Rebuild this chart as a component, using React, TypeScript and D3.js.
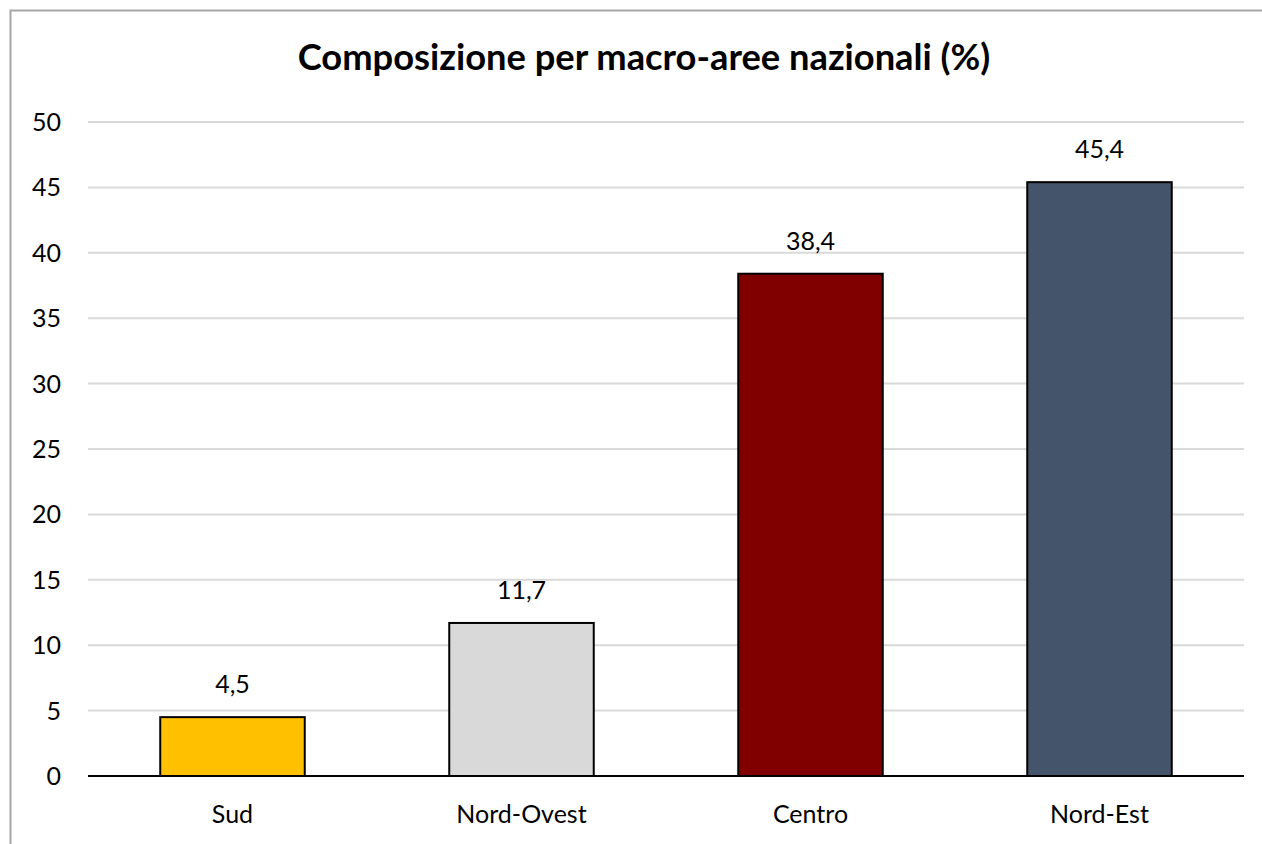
import * as d3 from "d3";
import { useEffect, useRef } from "react";

const categories = ["Sud", "Nord-Ovest", "Centro", "Nord-Est"];
const values = [4.5, 11.7, 38.4, 45.4];
const colors = ["#FFC000", "#D9D9D9", "#800000", "#44546A"];
const yTicks = [0, 5, 10, 15, 20, 25, 30, 35, 40, 45, 50];
const title = "Composizione per macro-aree nazionali (%)";

const W = 1262;
const H = 844;
const FONT = "Lato, 'Open Sans', sans-serif";

const App = () => {
  const svgRef = useRef<SVGSVGElement>(null);

  useEffect(() => {
    const svg = d3.select(svgRef.current);
    svg.selectAll("*").remove();

    // plot area bounds
    const margin = { top: 122, right: 18, bottom: 68, left: 88 };
    const x0 = margin.left;
    const x1 = W - margin.right;
    const y0 = H - margin.bottom;
    const yTop = margin.top;

    svg.append("rect").attr("width", W).attr("height", H).attr("fill", "white");

    // chart frame (only left and top edges are visible)
    svg
      .append("path")
      .attr("d", `M10.5,${H + 5} V10.5 H${W + 5}`)
      .attr("fill", "none")
      .attr("stroke", "#A6A6A6")
      .attr("stroke-width", 2);

    const x = d3.scaleBand().domain(categories).range([x0, x1]).paddingInner(0.5).paddingOuter(0.25);
    const y = d3.scaleLinear().domain([0, 50]).range([y0, yTop]);

    // gridlines
    svg
      .append("g")
      .selectAll("line")
      .data(yTicks.filter((t) => t > 0))
      .enter()
      .append("line")
      .attr("x1", x0)
      .attr("x2", x1)
      .attr("y1", (d) => y(d))
      .attr("y2", (d) => y(d))
      .attr("stroke", "#D9D9D9")
      .attr("stroke-width", 2);

    // y tick labels
    svg
      .append("g")
      .selectAll("text")
      .data(yTicks)
      .enter()
      .append("text")
      .attr("x", 61)
      .attr("y", (d) => y(d))
      .attr("dy", "0.36em")
      .attr("text-anchor", "end")
      .attr("font-family", FONT)
      .attr("font-size", 25)
      .attr("fill", "#000")
      .text((d) => d);

    // bars
    svg
      .append("g")
      .selectAll("rect")
      .data(values)
      .enter()
      .append("rect")
      .attr("x", (d, i) => x(categories[i])!)
      .attr("y", (d) => y(d))
      .attr("width", x.bandwidth())
      .attr("height", (d) => y0 - y(d))
      .attr("fill", (d, i) => colors[i])
      .attr("stroke", "#000")
      .attr("stroke-width", 2);

    // value labels
    svg
      .append("g")
      .selectAll("text")
      .data(values)
      .enter()
      .append("text")
      .attr("x", (d, i) => x(categories[i])! + x.bandwidth() / 2)
      .attr("y", (d) => y(d) - 24)
      .attr("text-anchor", "middle")
      .attr("font-family", FONT)
      .attr("font-size", 25)
      .attr("fill", "#000")
      .text((d) => d.toFixed(1).replace(".", ","));

    // x axis line
    svg
      .append("line")
      .attr("x1", x0)
      .attr("x2", x1)
      .attr("y1", y0)
      .attr("y2", y0)
      .attr("stroke", "#000")
      .attr("stroke-width", 2);

    // category labels
    svg
      .append("g")
      .selectAll("text")
      .data(categories)
      .enter()
      .append("text")
      .attr("x", (d) => x(d)! + x.bandwidth() / 2)
      .attr("y", 823)
      .attr("text-anchor", "middle")
      .attr("font-family", FONT)
      .attr("font-size", 25)
      .attr("fill", "#000")
      .text((d) => d);

    // title
    svg
      .append("text")
      .attr("x", 644)
      .attr("y", 70)
      .attr("text-anchor", "middle")
      .attr("font-family", FONT)
      .attr("font-weight", "bold")
      .attr("font-size", 36.3)
      .attr("fill", "#000")
      .text(title);
  }, []);

  return (
    <svg
      ref={svgRef}
      width={W}
      height={H}
      style={{ position: "fixed", top: 0, left: 0, display: "block" }}
    />
  );
};

export default App;
